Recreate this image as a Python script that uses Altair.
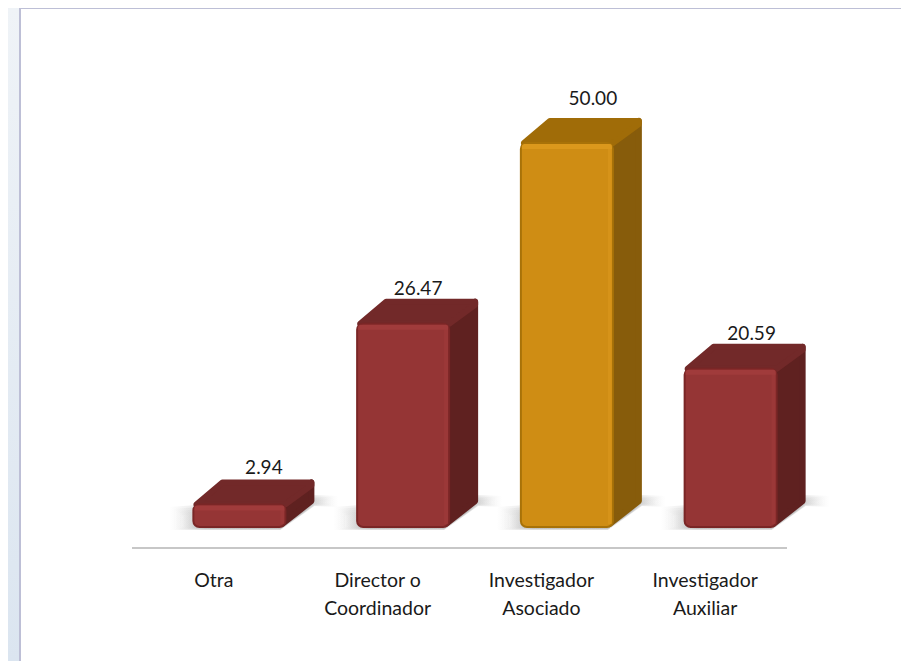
import altair as alt
import pandas as pd

categories = ["Otra", "Director o\nCoordinador", "Investigador\nAsociado", "Investigador\nAuxiliar"]
values = [2.94, 26.47, 50.00, 20.59]
value_labels = ["2.94", "26.47", "50.00", "20.59"]
front_colors = ["#953535", "#953535", "#cf8d14", "#953535"]
top_colors = ["#722929", "#722929", "#a06c08", "#722929"]
side_colors = ["#5f2120", "#5f2120", "#875c0b", "#5f2120"]
bevel_colors = ["#a03b3b", "#a03b3b", "#db981c", "#a03b3b"]
edge_colors = ["#7a2626", "#7a2626", "#a87208", "#7a2626"]

W, H = 893, 653
PX_X = 163.75          # px per category
PX_Y = 7.68            # px per value unit
X0 = 124               # axis start, px in chart
Y0 = 519               # value zero, px in chart
BAR_W = 92 / PX_X
BAR_SHIFT = 25.5 / PX_X
DX = 29 / PX_X
DY = 25 / PX_Y
IX = 3 / PX_X
IY = 3 / PX_Y
ux, uy = 1 / PX_X, 1 / PX_Y

xs = alt.Scale(domain=[-X0 / PX_X, (W - X0) / PX_X], range=[0, W], nice=False, zero=False)
ys = alt.Scale(domain=[(Y0 - H) / PX_Y, Y0 / PX_Y], range=[H, 0], nice=False, zero=False)
X = lambda f: alt.X(f, type="quantitative", scale=xs, axis=None)
Y = lambda f: alt.Y(f, type="quantitative", scale=ys, axis=None)

front, side, top, shadow, top_band, right_band = [], [], [], [], [], []
for i, (v, fc, tc, sc) in enumerate(zip(values, front_colors, top_colors, side_colors)):
    x0 = i + 0.5 + BAR_SHIFT - BAR_W / 2
    x1 = x0 + BAR_W
    front.append(dict(i=i, x=x0, x2=x1, y=v, y0=0, c=fc, edge=edge_colors[i]))
    top_band.append(dict(x=x0 + ux, x2=x1 - ux, y=v - uy, y0=v - 6 * uy, c=bevel_colors[i]))
    right_band.append(dict(x=x1 - 5 * ux, x2=x1 - ux, y=v - uy, y0=3 * uy, c=bevel_colors[i]))
    side += [dict(i=i, x=x1 - IX, y=v - IY, y0=IY, c=sc),
             dict(i=i, x=x1 + DX - IX, y=v + DY - IY, y0=DY + IY * 0.3, c=sc)]
    top += [dict(i=i, x=x0 + IX, y=v, y0=v, c=tc),
            dict(i=i, x=x0 + DX, y=v + DY - IY, y0=v, c=tc),
            dict(i=i, x=x1, y=v + DY - IY, y0=v, c=tc),
            dict(i=i, x=x1 + DX - IX, y=v + DY - IY, y0=v + DY - 2 * IY, c=tc)]
    for k, g in enumerate([0, 3, 6, 9, 12]):
        shadow += [dict(i=i, k=k, x=x0 - (24 - g) * ux, y=(20 - g * 0.7) * uy, y0=(-3 + g * 0.2) * uy),
                   dict(i=i, k=k, x=x1 - 5 * ux, y=(28 - g * 0.5) * uy, y0=(-3 + g * 0.2) * uy),
                   dict(i=i, k=k, x=x1 + DX, y=(32 - g * 0.5) * uy, y0=(21 + g * 0.2) * uy),
                   dict(i=i, k=k, x=x1 + DX + (24 - g) * ux, y=(31 - g * 0.5) * uy, y0=(20 + g * 0.4) * uy)]

front = pd.DataFrame(front)
side = pd.DataFrame(side)
top = pd.DataFrame(top)
shadow = pd.DataFrame(shadow)
top_band = pd.DataFrame(top_band)
right_band = pd.DataFrame(right_band)

# per-label nudges (px)
nudge_x = [24.5, 15, 26, 21]
nudge_y = [1, 0, 9, 0]
labels = pd.DataFrame({
    "t": value_labels,
    "x": [i + 0.5 + BAR_SHIFT + n / PX_X for i, n in enumerate(nudge_x)],
    "y": [v + DY + n / PX_Y for v, n in zip(values, nudge_y)],
})
cats = pd.DataFrame({"t": categories, "x": [i + 0.5 for i in range(4)], "y": [-44.5 / PX_Y] * 4})
axis_df = pd.DataFrame({"x": [0], "x2": [4], "y": [-21 / PX_Y]})
one = pd.DataFrame({"a": [0]})

strip = alt.Chart(one).mark_rect(color=alt.Gradient(
    gradient="linear", x1=0, y1=0, x2=0, y2=1,
    stops=[alt.GradientStop(offset=0, color="#eff3f7"), alt.GradientStop(offset=1, color="#dbe5f0")]
)).encode(x=alt.value(0), x2=alt.value(11), y=alt.value(0), y2=alt.value(H))
vborder = alt.Chart(one).mark_rect(color="#bdbfd6").encode(
    x=alt.value(11), x2=alt.value(13), y=alt.value(0), y2=alt.value(H))
hborder = alt.Chart(one).mark_rect(color="#bdbfd6").encode(
    x=alt.value(11), x2=alt.value(W), y=alt.value(0), y2=alt.value(1))

shadow_layer = alt.Chart(shadow).mark_area(
    opacity=0.22,
    color=alt.Gradient(gradient="linear", x1=0, y1=0, x2=1, y2=0, stops=[
        alt.GradientStop(offset=0, color="#ffffff"),
        alt.GradientStop(offset=0.2, color="#8c8c8c"),
        alt.GradientStop(offset=0.8, color="#8c8c8c"),
        alt.GradientStop(offset=1, color="#ffffff"),
    ])
).encode(x=X("x"), y=Y("y"), y2="y0", detail=["i:N", "k:N"])

side_layer = alt.Chart(side).mark_area(strokeWidth=6, strokeJoin="round").encode(
    x=X("x"), y=Y("y"), y2="y0", detail="i:N",
    fill=alt.Color("c:N", scale=None), stroke=alt.Color("c:N", scale=None))
top_layer = alt.Chart(top).mark_area(strokeWidth=6, strokeJoin="round").encode(
    x=X("x"), y=Y("y"), y2="y0", detail="i:N",
    fill=alt.Color("c:N", scale=None), stroke=alt.Color("c:N", scale=None))
front_layer = alt.Chart(front).mark_bar(cornerRadius=6, strokeWidth=2).encode(
    x=X("x"), x2="x2", y=Y("y"), y2="y0",
    fill=alt.Color("c:N", scale=None), stroke=alt.Color("edge:N", scale=None))
band_top_layer = alt.Chart(top_band).mark_bar(cornerRadiusTopLeft=5, cornerRadiusTopRight=5).encode(
    x=X("x"), x2="x2", y=Y("y"), y2="y0", fill=alt.Color("c:N", scale=None))
band_right_layer = alt.Chart(right_band).mark_bar(cornerRadiusTopRight=5, opacity=0.6).encode(
    x=X("x"), x2="x2", y=Y("y"), y2="y0", fill=alt.Color("c:N", scale=None))

axis_layer = alt.Chart(axis_df).mark_rule(color="#b4b4b4", strokeWidth=1.5).encode(
    x=X("x"), x2="x2", y=Y("y"))
label_layer = alt.Chart(labels).mark_text(
    font="Lato", fontSize=19, color="#1a1a1a", baseline="bottom"
).encode(x=X("x"), y=Y("y"), text="t:N")
cat_layer = alt.Chart(cats).mark_text(
    font="Lato", fontSize=19.5, color="#1a1a1a", baseline="top",
    lineBreak="\n", lineHeight=28
).encode(x=X("x"), y=Y("y"), text="t:N")

chart = alt.layer(
    strip, vborder, hborder, shadow_layer, side_layer, top_layer, front_layer,
    band_right_layer, band_top_layer, axis_layer, label_layer, cat_layer
).properties(width=W, height=H, padding=0, background="white").configure_view(stroke=None)

chart.save("out.html", embed_options={"renderer": "svg", "actions": False})
